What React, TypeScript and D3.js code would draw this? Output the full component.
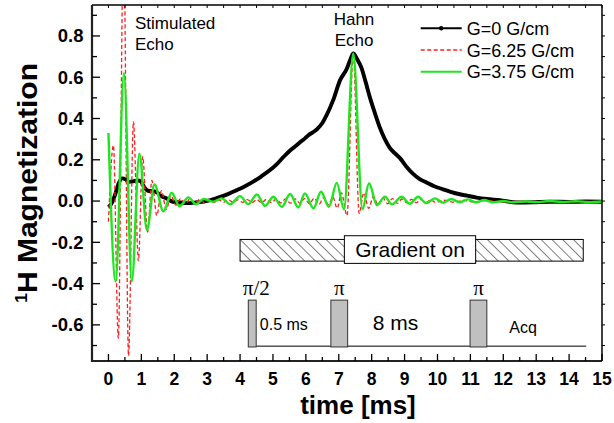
import React from "react";
import * as d3 from "d3";

// ---- data (time in ms, magnetization) ----
const blackT = [0.0,0.1,0.2,0.32,0.42,0.52,0.62,0.75,0.88,0.98,1.1,1.2,1.35,1.47,1.6,1.77,1.9,2.1,2.4,2.7,2.9,3.1,3.4,3.65,3.9,4.15,4.4,4.65,4.91,5.11,5.3,5.52,5.7,5.85,5.98,6.1,6.22,6.33,6.5,6.63,6.83,7.04,7.24,7.35,7.44,7.55,7.69,7.82,7.95,8.1,8.25,8.4,8.55,8.7,8.86,9.05,9.26,9.45,9.67,9.9,10.17,10.4,10.68,10.9,11.19,11.5,11.9,12.4,12.9,13.4,14.0,14.5,15.0];
const blackV = [-0.03,-0.01,0.03,0.09,0.11,0.105,0.093,0.095,0.1,0.095,0.065,0.05,0.048,0.042,0.025,0.012,0.0,-0.006,-0.01,-0.006,-0.003,0.005,0.02,0.035,0.053,0.072,0.094,0.12,0.15,0.178,0.21,0.245,0.268,0.288,0.305,0.322,0.334,0.347,0.378,0.416,0.489,0.586,0.64,0.685,0.715,0.69,0.645,0.575,0.5,0.425,0.355,0.3,0.258,0.232,0.208,0.168,0.132,0.108,0.09,0.072,0.057,0.045,0.033,0.026,0.017,0.01,0.004,-0.007,-0.006,-0.003,-0.004,-0.002,-0.003];

const redT = [0.0,0.15,0.3,0.46,0.61,0.76,0.91,1.04,1.19,1.32,1.47,1.61,1.76,1.9,2.05,2.19,2.34,2.48,2.63,2.77,2.92,3.06,3.21,3.35,3.5,3.64,3.79,3.93,4.08,4.22,4.37,4.51,4.66,4.8,4.95,5.09,5.24,5.38,5.53,5.67,5.82,5.96,6.11,6.25,6.4,6.54,6.69,6.82,6.95,7.08,7.25,7.44,7.62,7.76,7.91,8.05,8.2,8.34,8.49,8.63,8.78,8.92,9.07,9.21,9.36,9.5,9.65,9.79,9.94,10.2,10.5,10.8,11.1,11.5,12.0,12.5,13.0,13.5,14.0,14.5,15.0];
const redV = [-0.1,0.27,-0.665,1.3,-0.75,0.385,-0.29,0.215,-0.15,0.1,-0.07,0.05,-0.04,0.025,-0.02,0.012,-0.012,0.01,-0.01,0.008,-0.008,0.007,-0.007,0.006,-0.006,0.006,-0.006,0.006,-0.006,0.007,-0.007,0.007,-0.008,0.008,-0.008,0.009,-0.009,0.01,-0.01,0.011,-0.011,0.012,-0.013,0.014,-0.015,0.016,-0.018,0.02,-0.035,0.04,-0.07,0.715,-0.06,0.04,-0.035,0.022,-0.018,0.015,-0.013,0.012,-0.011,0.01,-0.009,0.008,-0.008,0.007,-0.007,0.006,-0.006,0.004,-0.005,0.003,-0.004,0.002,-0.004,-0.002,-0.005,-0.002,-0.004,-0.002,-0.003];

const greenT = [0.0,0.22,0.47,0.71,0.94,1.17,1.4,1.67,1.92,2.16,2.43,2.66,2.89,3.19,3.44,3.7,4.0,4.25,4.51,4.76,5.01,5.27,5.52,5.77,5.97,6.23,6.46,6.7,6.94,7.16,7.44,7.72,7.92,8.16,8.4,8.62,8.91,9.16,9.41,9.66,9.92,10.17,10.42,10.67,10.92,11.17,11.42,11.67,12.0,12.3,12.7,13.0,13.4,13.8,14.2,14.6,15.0];
const greenV = [0.33,-0.39,0.62,-0.39,0.23,-0.14,0.08,-0.05,0.04,-0.025,0.018,-0.015,0.01,-0.003,0.013,-0.015,0.024,-0.015,0.032,-0.023,0.021,-0.028,0.034,-0.031,0.037,-0.035,0.045,-0.028,0.088,-0.04,0.715,-0.04,0.086,-0.02,0.021,-0.016,0.021,-0.013,0.021,-0.01,0.013,-0.008,0.01,-0.006,0.008,-0.006,0.005,-0.006,0.0,-0.006,-0.002,-0.005,0.0,-0.004,-0.001,-0.005,-0.002];

const xMajor = d3.range(0, 16, 1);
const xMinor = d3.range(0.5, 15, 1);
const yMajor = [-0.6, -0.4, -0.2, 0.0, 0.2, 0.4, 0.6, 0.8];
const yMinor = [-0.7, -0.5, -0.3, -0.1, 0.1, 0.3, 0.5, 0.7, 0.9];

const legendLabels = ["G=0 G/cm", "G=6.25 G/cm", "G=3.75 G/cm"];

// pulse-sequence sketch (ms / magnetization units)
const pulses = [
  { t0: 4.25, t1: 4.49, label: "\u03c0/2" },
  { t0: 6.76, t1: 7.27, label: "\u03c0" },
  { t0: 10.99, t1: 11.5, label: "\u03c0" },
];

const W = 614, H = 423;
const L = 92, R = 602, T = 5, B = 361;
const FONT = "'Liberation Sans', Arial, sans-serif";

export default function App() {
  const x = d3.scaleLinear().domain([-0.5, 15]).range([L, R]);
  const y = d3.scaleLinear().domain([-0.775, 0.95]).range([B, T]);
  const mk = (ts: number[], vs: number[]) =>
    d3.line<number>().x((_, i) => x(ts[i])).y((_, i) => y(vs[i])).curve(d3.curveMonotoneX)(ts) || "";

  const black = mk(blackT, blackV);
  const red = mk(redT, redV);
  const green = mk(greenT, greenV);

  const cRed = "#ff1e1e";
  const cGreen = "#1ee61e";

  const hatch0 = x(4.0), hatch1 = x(14.43);
  const hy0 = y(-0.186), hy1 = y(-0.291);
  const gb0 = x(7.17), gb1 = x(11.16);
  const gy0 = y(-0.168), gy1 = y(-0.302);
  const pTop = y(-0.48), pBot = y(-0.707), base = y(-0.703);

  const legY = [28.3, 50, 71.7];

  return (
    <svg width={W} height={H} style={{ position: "absolute", left: 0, top: 0, background: "#fff" }} fontFamily={FONT}>
      <defs>
        <clipPath id="plot">
          <rect x={L} y={T} width={R - L} height={B - T} />
        </clipPath>
        <pattern id="hatch" width={7.6} height={10} patternUnits="userSpaceOnUse" patternTransform="rotate(-45)">
          <line x1={0} y1={-1} x2={0} y2={11} stroke="#000" strokeWidth={1} />
        </pattern>
      </defs>
      <rect x={0} y={0} width={W} height={H} fill="#fff" />

      {/* pulse sequence diagram */}
      <rect x={hatch0} y={hy0} width={hatch1 - hatch0} height={hy1 - hy0} fill="url(#hatch)" stroke="#000" strokeWidth={1} />
      <rect x={gb0} y={gy0} width={gb1 - gb0} height={gy1 - gy0} fill="#fff" stroke="#000" strokeWidth={1} />
      <text x={(gb0 + gb1) / 2} y={y(-0.27)} textAnchor="middle" fontSize={21}>Gradient on</text>
      <line x1={x(4.49)} x2={x(14.52)} y1={base} y2={base} stroke="#000" strokeWidth={1} />
      {pulses.map((p, i) => (
        <g key={i}>
          <rect x={x(p.t0)} y={pTop} width={x(p.t1) - x(p.t0)} height={pBot - pTop} fill="#c0c0c0" stroke="#333" strokeWidth={1} />
          <text x={i === 0 ? x(p.t0) - 5.5 : (x(p.t0) + x(p.t1)) / 2} y={y(-0.455)} textAnchor={i === 0 ? "start" : "middle"}
            fontFamily="'Liberation Serif', 'Times New Roman', serif" fontSize={21}>{p.label}</text>
        </g>
      ))}
      <text x={x(4.6)} y={y(-0.625)} fontSize={16}>0.5 ms</text>
      <text x={x(8.03)} y={y(-0.625)} fontSize={21}>8 ms</text>
      <text x={x(12.18)} y={y(-0.64)} fontSize={16}>Acq</text>

      {/* curves */}
      <g clipPath="url(#plot)" fill="none">
        <path d={black} stroke="#000" strokeWidth={3.9} strokeLinejoin="round" />
        <path d={red} stroke={cRed} strokeWidth={1.3} strokeDasharray="4,2.5" />
        <path d={green} stroke={cGreen} strokeWidth={2.4} />
      </g>

      {/* annotations */}
      <text x={135} y={29.3} fontSize={17}>Stimulated</text>
      <text x={135} y={50} fontSize={17}>Echo</text>
      <text x={354} y={25} fontSize={17} textAnchor="middle">Hahn</text>
      <text x={354} y={45.5} fontSize={17} textAnchor="middle">Echo</text>

      {/* legend */}
      {legendLabels.map((lab, i) => (
        <g key={lab}>
          <line x1={420.7} x2={461.7} y1={legY[i]} y2={legY[i]}
            stroke={i === 0 ? "#000" : i === 1 ? cRed : cGreen}
            strokeWidth={i === 0 ? 2 : i === 1 ? 1.3 : 2}
            strokeDasharray={i === 1 ? "4,2.5" : undefined} />
          {i === 0 && <circle cx={441.2} cy={legY[i]} r={2.2} fill="#000" />}
          <text x={466.7} y={legY[i] + 6.6} fontSize={18}>{lab}</text>
        </g>
      ))}

      {/* axes frame */}
      <line x1={L} x2={R} y1={T} y2={T} stroke="#000" strokeWidth={1.5} />
      <line x1={R} x2={R} y1={T} y2={B} stroke="#000" strokeWidth={1.5} />
      <line x1={L} x2={L} y1={T} y2={B + 1} stroke="#222" strokeWidth={2.2} />
      <line x1={L - 1} x2={R} y1={B} y2={B} stroke="#222" strokeWidth={2.2} />

      {/* bottom ticks */}
      {xMajor.map(v => <line key={"xM" + v} x1={x(v)} x2={x(v)} y1={B} y2={B - 7} stroke="#000" strokeWidth={1.3} />)}
      {xMinor.map(v => <line key={"xm" + v} x1={x(v)} x2={x(v)} y1={B} y2={B - 4} stroke="#000" strokeWidth={1.3} />)}
      {/* top ticks */}
      {[...xMajor, ...xMinor].map(v => <line key={"xt" + v} x1={x(v)} x2={x(v)} y1={T} y2={T + 3} stroke="#000" strokeWidth={1} />)}
      {xMajor.map(v => (
        <text key={"xl" + v} x={x(v)} y={385} textAnchor="middle" fontSize={17.5} fontWeight="bold">{v}</text>
      ))}

      {/* left ticks */}
      {yMajor.map(v => <line key={"yM" + v} x1={L} x2={L + 8} y1={y(v)} y2={y(v)} stroke="#000" strokeWidth={1.3} />)}
      {yMinor.map(v => <line key={"ym" + v} x1={L} x2={L + 5} y1={y(v)} y2={y(v)} stroke="#000" strokeWidth={1.3} />)}
      {/* right ticks */}
      {[...yMajor, ...yMinor].map(v => <line key={"yr" + v} x1={R} x2={R + 3} y1={y(v)} y2={y(v)} stroke="#000" strokeWidth={1} />)}
      {yMajor.map(v => (
        <text key={"yl" + v} x={83.5} y={y(v) + 6.3} textAnchor="end" fontSize={18.5} fontWeight="bold">{v.toFixed(1)}</text>
      ))}

      {/* axis titles */}
      <text x={358} y={414} textAnchor="middle" fontSize={26} fontWeight="bold">time [ms]</text>
      <text transform={`translate(36.5,${183}) rotate(-90)`} textAnchor="middle" fontSize={27} fontWeight="bold"
        textLength={240} lengthAdjust="spacingAndGlyphs">
        <tspan fontSize={16} dy={-10}>1</tspan><tspan dy={10}>H Magnetization</tspan>
      </text>
    </svg>
  );
}
